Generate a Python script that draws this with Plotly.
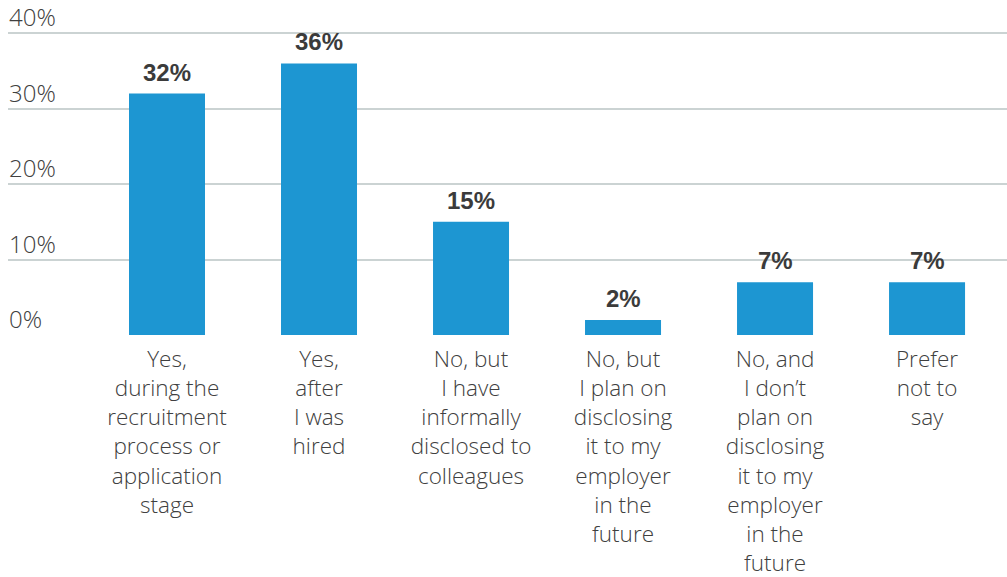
import plotly.graph_objects as go

categories = [
    "Yes,<br>during the<br>recruitment<br>process or<br>application<br>stage",
    "Yes,<br>after<br>I was<br>hired",
    "No, but<br>I have<br>informally<br>disclosed to<br>colleagues",
    "No, but<br>I plan on<br>disclosing<br>it to my<br>employer<br>in the<br>future",
    "No, and<br>I don’t<br>plan on<br>disclosing<br>it to my<br>employer<br>in the<br>future",
    "Prefer<br>not to<br>say",
]
values = [32, 36, 15, 2, 7, 7]
y_ticks = [0, 10, 20, 30, 40]
y_tick_labels = ["0%", "10%", "20%", "30%", "40%"]

BAR = "#1d96d2"
LABEL = "#3b3b3b"
AXIS_TEXT = "#404040"
GRID = "#cbd3d3"
LIGHT = "Open Sans"

fig = go.Figure(
    go.Bar(
        x=categories,
        y=values,
        marker=dict(color=BAR, line=dict(width=0)),
        hoverinfo="skip",
    )
)

# value labels above each bar
for c, v in zip(categories, values):
    fig.add_annotation(
        x=c, y=v, text=f"<b>{v}%</b>",
        showarrow=False, yanchor="bottom", yshift=6,
        font=dict(family="Liberation Sans", size=24, color=LABEL),
    )

# y tick labels sit on top of their gridlines at the left edge
for t, lab in zip(y_ticks, y_tick_labels):
    fig.add_annotation(
        xref="paper", x=0, y=t, text=lab,
        showarrow=False, xanchor="left", yanchor="bottom",
        yshift=-1, borderpad=0,
        font=dict(family=LIGHT, size=24, color=AXIS_TEXT, weight=300),
    )

fig.update_layout(
    width=1007, height=577,
    margin=dict(l=8, r=0, t=31, b=242),
    paper_bgcolor="white", plot_bgcolor="white",
    bargap=0.5,
    showlegend=False,
    xaxis=dict(
        type="category",
        range=[-1.046, 5.526],
        showgrid=False, zeroline=False, showline=False,
        ticks="", ticklabelstandoff=8,
        tickfont=dict(family=LIGHT, size=22.5, color=AXIS_TEXT, weight=300),
    ),
    yaxis=dict(
        range=[0, 40.3],
        tickvals=y_ticks,
        showgrid=True, gridcolor=GRID, gridwidth=1.5,
        zeroline=False, showline=False, ticks="",
        showticklabels=False,
    ),
)

fig.write_html("out.html")
